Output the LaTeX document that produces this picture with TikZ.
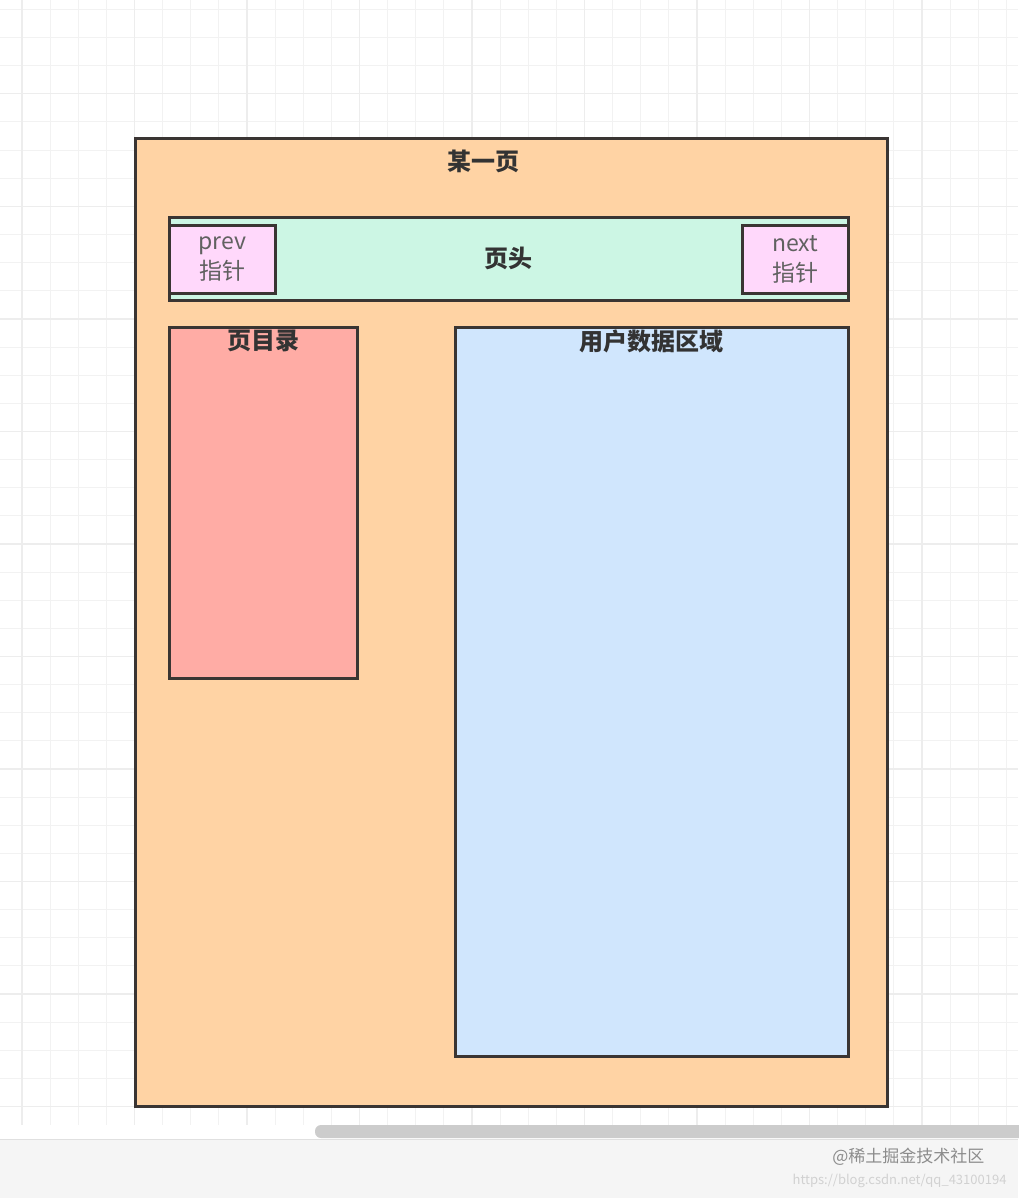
\documentclass[tikz,border=0pt]{standalone}
\usepackage{fontspec}
\setmainfont{Noto Sans CJK SC}
\usepackage{tikz}
\usetikzlibrary{positioning}
\definecolor{pagecol}{HTML}{FFD3A4}
\definecolor{headcol}{HTML}{CCF6E4}
\definecolor{ptrcol}{HTML}{FFD8FB}
\definecolor{dircol}{HTML}{FFACA5}
\definecolor{datacol}{HTML}{D0E6FD}
\definecolor{edgecol}{HTML}{3A3533}
\tikzset{box/.style={draw=edgecol,line width=2.8pt,anchor=north west,inner sep=0pt},
         title/.style={text=black!80,font=\fontsize{24}{28}\selectfont\bfseries},
         ptrtext/.style={text=black!62,font=\fontsize{23}{29}\selectfont,align=center}}

\begin{document}
\begin{tikzpicture}[x=1pt, y=-1pt]
    \useasboundingbox (0, 0) rectangle (1018, 1198);
    \fill [white] (0, 0) rectangle (1018, 1198);
    % grid
    \foreach \i in {0,...,35}
        \draw [black!5, line width=1pt] (22+28.125*\i, 0) -- (22+28.125*\i, 1125);
    \foreach \i in {0,...,39}
        \draw [black!5, line width=1pt] (0, 9.5+28.125*\i) -- (1018, 9.5+28.125*\i);
    \foreach \i in {0,...,8}
        \draw [black!7, line width=1.2pt] (22+112.5*\i, 0) -- (22+112.5*\i, 1125);
    \foreach \i in {0,...,9}
        \draw [black!7, line width=1.2pt] (0, 93.9+112.5*\i) -- (1018, 93.9+112.5*\i);
    \fill [black!4] (0, 1139) rectangle (1018, 1198);
    \draw [black!12, line width=1pt] (0, 1139) -- (1018, 1139);
    \fill [black!20, rounded corners=6pt] (315, 1125) rectangle (1030, 1138);

    \node [box, fill=pagecol, minimum width=752pt, minimum height=968pt] (page) at (134, 137) {};
    \node [title] (pagetitle) at ([xshift=-28pt, yshift=-24pt]page.north) {某一页};

    \node [box, fill=headcol, minimum width=679pt, minimum height=83pt] (head) at (168, 216) {};
    \node [title] (headtitle) at (head.center) {页头};
    \node [box, fill=ptrcol, minimum width=106pt, minimum height=68pt] (prev) at (168, 224) {};
    \node [ptrtext] at (prev.center) {prev\\[1pt]指针};
    \node [box, fill=ptrcol, minimum width=106pt, minimum height=68pt] (next) at (741, 224) {};
    \node [ptrtext] at (next.center) {next\\[1pt]指针};

    \node [box, fill=dircol, minimum width=188pt, minimum height=351pt] (dir) at (168, 326) {};
    \node [title] (dirtitle) at ([yshift=-15pt]dir.north) {页目录};
    \node [box, fill=datacol, minimum width=393pt, minimum height=729pt] (data) at (454, 326) {};
    \node [title] (datatitle) at ([yshift=-15pt]data.north) {用户数据区域};

    \node [text=black!45, font=\fontsize{17}{20}\selectfont, anchor=east] (mark) at (988, 1157) {@稀土掘金技术社区};
    \node [text=black!18, font=\fontsize{13}{16}\selectfont, anchor=east] (url) at (1010, 1181) {https://blog.csdn.net/qq\_43100194};
\end{tikzpicture}
\end{document}
